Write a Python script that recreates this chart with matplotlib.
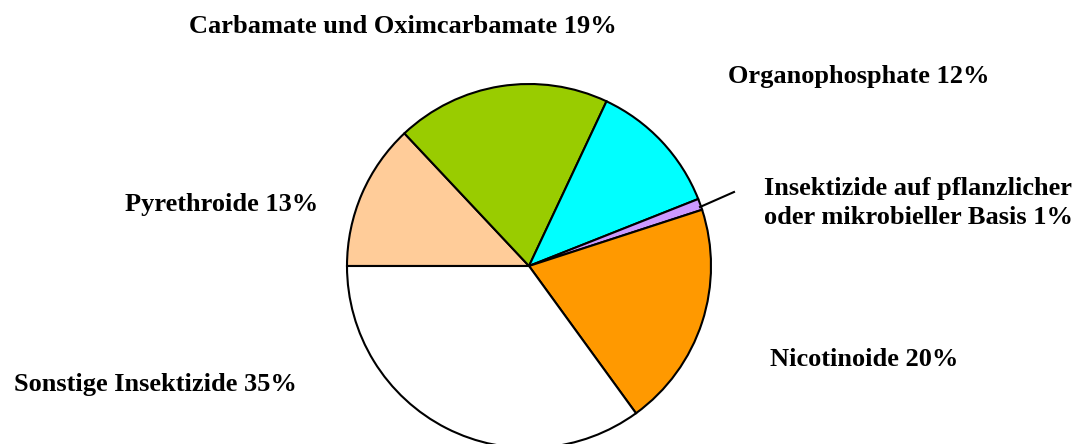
import matplotlib.pyplot as plt

labels = ['Pyrethroide 13%', 'Carbamate und Oximcarbamate 19%', 'Organophosphate 12%',
          'Insektizide auf pflanzlicher\noder mikrobieller Basis 1%', 'Nicotinoide 20%',
          'Sonstige Insektizide 35%']
shares = [13, 19, 12, 1, 20, 35]
colors = ['#FFCC99', '#99CC00', '#00FFFF', '#CC99FF', '#FF9900', '#FFFFFF']

# label positions in pixels (x, y from top)
label_pos = [(222, 204), (403, 27), (859, 77), (918, 203), (864, 359), (155, 384)]

W, H = 1081, 444
cx, cy, r = 529, 266, 182

fig = plt.figure(figsize=(W / 100, H / 100), dpi=100)
ax = fig.add_axes([0, 0, 1, 1])

ax.pie(shares, colors=colors, radius=r, startangle=180, counterclock=False,
       wedgeprops=dict(edgecolor='black', linewidth=1.5))

ax.set_xlim(-cx, W - cx)
ax.set_ylim(-(H - cy), cy)
ax.set_aspect('equal')
ax.axis('off')

for lab, (px, py) in zip(labels, label_pos):
    ax.text(px - cx, cy - py, lab, ha='center', va='center', family='Liberation Serif',
            fontweight='bold', fontsize=19, linespacing=1.3)

# leader line for the small slice
ax.plot([700 - cx, 734 - cx], [cy - 207, cy - 192], color='black', lw=1.5)

fig.savefig('out.png', dpi=100)
